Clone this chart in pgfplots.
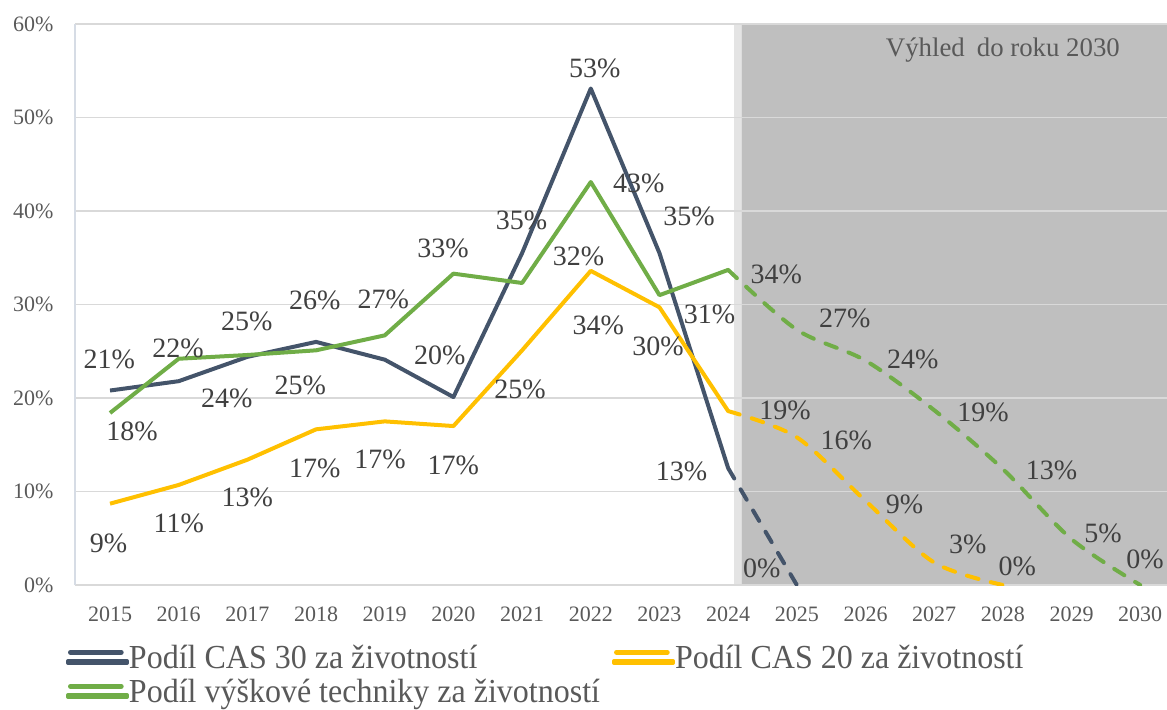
\documentclass[border=0pt]{standalone}
\usepackage{fontspec}
\setmainfont{Liberation Serif}
\usepackage{graphicx}
\usepackage{pgfplots}
\pgfplotsset{compat=1.18}
\definecolor{navy}{HTML}{44546A}
\definecolor{gold}{HTML}{FFC000}
\definecolor{grn}{HTML}{70AD47}
\definecolor{tickgray}{HTML}{595959}
\definecolor{labgray}{HTML}{404040}
\definecolor{shade}{HTML}{BFBFBF}
\definecolor{strip}{HTML}{E4E4E4}
\definecolor{gridc}{HTML}{D9D9D9}
\definecolor{yaxc}{HTML}{D6DCE5}
\tikzset{dl/.style={font=\fontsize{14}{16}\selectfont, text=labgray, inner sep=0pt}}
\newcommand{\legtext}[1]{\scalebox{1}[1.05]{#1}}
\begin{document}
\begin{tikzpicture}
\begin{axis}[
  at={(37.5pt,62pt)}, anchor=south west,
  width=546pt, height=280.5pt, scale only axis,
  xmin=2014.49, xmax=2030.39, ymin=0, ymax=60,
  set layers,
  xtick={2015,2016,...,2030},
  ytick={0,10,...,60},
  yticklabel={\pgfmathprintnumber{\tick}\%},
  /pgf/number format/assume math mode=true,
  /pgf/number format/1000 sep={},
  tick label style={font=\fontsize{11}{13}\selectfont, text=tickgray},
  xticklabel style={yshift=-7.6pt},
  yticklabel style={xshift=-7.3pt},
  major tick length=0pt,
  ymajorgrids, grid style={gridc, line width=0.75pt},
  axis lines*=left,
  x axis line style={-, color=gridc, line width=0.75pt},
  y axis line style={-, color=yaxc, line width=0.75pt},
  legend style={at={(0,0)}, anchor=north west, xshift=-4.5pt, yshift=-30.5pt,
    draw=none, fill=none, inner sep=0pt, outer sep=0pt,
    column sep=0pt, row sep=0pt,
    nodes={inner sep=0pt, text=tickgray, font=\fontsize{16}{18}\selectfont, text height=11pt, text depth=6pt},
    /tikz/every even column/.append style={column sep=6pt}},
  legend columns=2,
  legend cell align=left,
  legend image code/.code={\path (0,0) rectangle (29.5pt,1pt);
    \draw[#1, solid, line width=2.5pt, line cap=round] (1.25pt,5.35pt) -- (26.6pt,5.35pt);},
]
% forecast background
\addplot[forget plot, on layer=axis background, draw=none, fill=strip]
  coordinates {(2024.087,0) (2024.087,60) (2024.195,60) (2024.195,0)} \closedcycle;
\addplot[forget plot, on layer=axis background, draw=none, fill=shade]
  coordinates {(2024.195,0) (2024.195,60) (2030.39,60) (2030.39,0)} \closedcycle;

% actual series
\addplot[navy, line width=2pt, line join=round] coordinates {
 (2015,20.8) (2016,21.8) (2017,24.4) (2018,26.0) (2019,24.1) (2020,20.1)
 (2021,35.5) (2022,53.1) (2023,35.5) (2024,12.5)};
\addlegendentry{\legtext{Podíl CAS 30 za životností}}
\addplot[gold, line width=2pt, line join=round] coordinates {
 (2015,8.7) (2016,10.7) (2017,13.4) (2018,16.65) (2019,17.5) (2020,17.0)
 (2021,25.1) (2022,33.6) (2023,29.7) (2024,18.6)};
\addlegendentry{\legtext{Podíl CAS 20 za životností}}
\addplot[grn, line width=2pt, line join=round] coordinates {
 (2015,18.4) (2016,24.2) (2017,24.6) (2018,25.1) (2019,26.7) (2020,33.3)
 (2021,32.3) (2022,43.1) (2023,31.0) (2024,33.7)};
\addlegendentry{\legtext{Podíl výškové techniky za životností}}

% forecast series
\addplot[forget plot, navy, line width=2pt, line cap=round, dash pattern=on 6pt off 6.3pt] coordinates {
 (2024,12.5) (2025,0)};
\addplot[forget plot, gold, line width=2pt, line cap=round, dash pattern=on 6pt off 6.3pt, smooth] coordinates {
 (2024,18.6) (2025,15.8) (2026,9.0) (2027,2.4) (2028,0)};
\addplot[forget plot, grn, line width=2pt, line cap=round, dash pattern=on 6pt off 6.3pt, smooth] coordinates {
 (2024,33.7) (2025,27.3) (2026,24.0) (2027,18.7) (2028,12.4) (2029,4.9) (2030,0)};

% data labels
\node[dl] at (axis cs:2014.99,24.1) {21\%};
\node[dl] at (axis cs:2015.99,25.3) {22\%};
\node[dl] at (axis cs:2016.99,28.2) {25\%};
\node[dl] at (axis cs:2017.98,30.4) {26\%};
\node[dl] at (axis cs:2018.98,30.5) {27\%};
\node[dl] at (axis cs:2019.85,36.0) {33\%};
\node[dl] at (axis cs:2020.99,39.0) {35\%};
\node[dl] at (axis cs:2022.06,55.3) {53\%};
\node[dl] at (axis cs:2022.70,43.0) {43\%};
\node[dl] at (axis cs:2023.43,39.4) {35\%};
\node[dl] at (axis cs:2021.82,35.1) {32\%};
\node[dl] at (axis cs:2024.70,33.2) {34\%};
\node[dl] at (axis cs:2023.73,28.9) {31\%};
\node[dl] at (axis cs:2022.11,27.8) {34\%};
\node[dl] at (axis cs:2022.98,25.5) {30\%};
\node[dl] at (axis cs:2019.80,24.6) {20\%};
\node[dl] at (axis cs:2020.97,20.9) {25\%};
\node[dl] at (axis cs:2019.997,12.8) {17\%};
\node[dl] at (axis cs:2018.93,13.4) {17\%};
\node[dl] at (axis cs:2017.98,12.5) {17\%};
\node[dl] at (axis cs:2016.70,20.0) {24\%};
\node[dl] at (axis cs:2017.77,21.3) {25\%};
\node[dl] at (axis cs:2015.32,16.4) {18\%};
\node[dl] at (axis cs:2017.0,9.4) {13\%};
\node[dl] at (axis cs:2016.0,6.6) {11\%};
\node[dl] at (axis cs:2014.98,4.5) {9\%};
\node[dl] at (axis cs:2023.32,12.1) {13\%};
\node[dl] at (axis cs:2024.49,1.8) {0\%};
\node[dl] at (axis cs:2024.83,18.7) {19\%};
\node[dl] at (axis cs:2025.72,15.5) {16\%};
\node[dl] at (axis cs:2026.57,8.6) {9\%};
\node[dl] at (axis cs:2025.70,28.5) {27\%};
\node[dl] at (axis cs:2026.69,24.1) {24\%};
\node[dl] at (axis cs:2027.71,18.5) {19\%};
\node[dl] at (axis cs:2028.71,12.3) {13\%};
\node[dl] at (axis cs:2027.49,4.3) {3\%};
\node[dl] at (axis cs:2028.21,2.0) {0\%};
\node[dl] at (axis cs:2029.46,5.5) {5\%};
\node[dl] at (axis cs:2030.07,2.7) {0\%};

\node[font=\fontsize{13.4}{15}\selectfont, text=tickgray, inner sep=0pt] at (axis cs:2028.0,57.2) {Výhled\hspace{0.45em}do roku 2030};
\end{axis}
\pgfresetboundingbox
\path[use as bounding box] (0,0) rectangle (583.5pt,354.5pt);
\end{tikzpicture}
\end{document}
